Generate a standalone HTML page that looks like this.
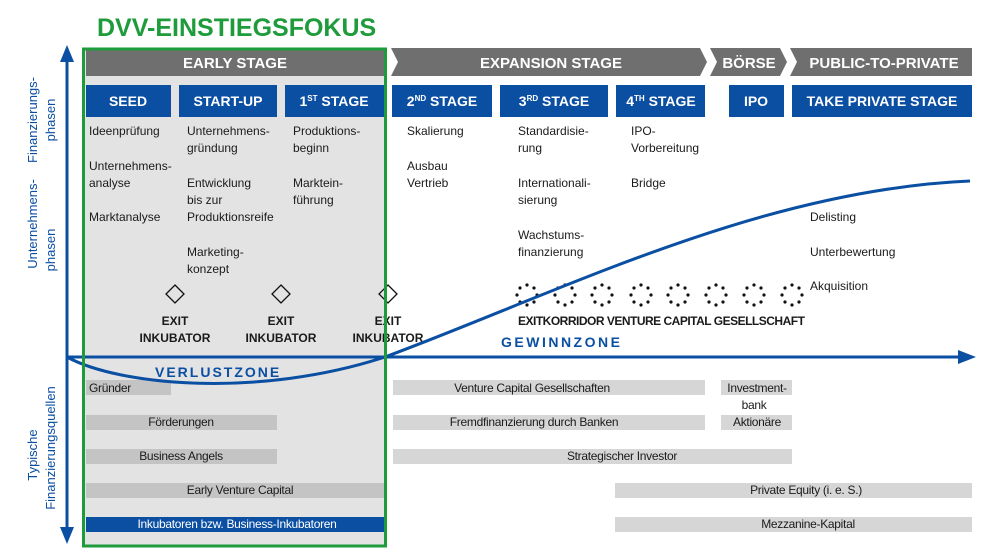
<!DOCTYPE html>
<html><head><meta charset="utf-8"><style>
html,body{margin:0;padding:0;background:#fff;}
svg{display:block;font-family:"Liberation Sans",sans-serif;}
.t{font-size:12px;fill:#1a1a1a;}
.b{font-size:12px;fill:#1a1a1a;font-weight:bold;}
.h{font-size:15px;fill:#fff;font-weight:bold;}
.s{font-size:14px;fill:#fff;font-weight:bold;}
.ax{font-size:13px;fill:#0a4ea3;}
</style></head><body>
<svg width="992" height="559" viewBox="0 0 992 559" xmlns="http://www.w3.org/2000/svg">
<rect x="84" y="49" width="302" height="497" fill="#e3e3e3"/>
<text x="97" y="36" font-size="25" font-weight="bold" fill="#1e9b3b">DVV-EINSTIEGSFOKUS</text>
<rect x="86" y="50" width="299" height="26" fill="#6f6f6f"/>
<polygon points="391,48 700,48 707,62 700,76 391,76 398,62" fill="#6f6f6f"/>
<polygon points="710,48 780,48 787,62 780,76 710,76 717,62" fill="#6f6f6f"/>
<polygon points="790,48 972,48 972,76 790,76 797,62" fill="#6f6f6f"/>
<text class="h" x="235" y="68" text-anchor="middle">EARLY STAGE</text>
<text class="h" x="551" y="68" text-anchor="middle">EXPANSION STAGE</text>
<text class="h" x="749" y="68" text-anchor="middle">BÖRSE</text>
<text class="h" x="884" y="68" text-anchor="middle">PUBLIC-TO-PRIVATE</text>
<g fill="#0b4fa3">
<rect x="86" y="85" width="85" height="32"/>
<rect x="179" y="85" width="98" height="32"/>
<rect x="285" y="85" width="99" height="32"/>
<rect x="392" y="85" width="100" height="32"/>
<rect x="500" y="85" width="108" height="32"/>
<rect x="616" y="85" width="89" height="32"/>
<rect x="729" y="85" width="55" height="32"/>
<rect x="792" y="85" width="180" height="32"/>
</g>
<text class="s" x="128" y="106" text-anchor="middle">SEED</text>
<text class="s" x="228" y="106" text-anchor="middle">START-UP</text>
<text class="s" x="334" y="106" text-anchor="middle">1<tspan font-size="8" dy="-5">ST</tspan><tspan dy="5"> STAGE</tspan></text>
<text class="s" x="442" y="106" text-anchor="middle">2<tspan font-size="8" dy="-5">ND</tspan><tspan dy="5"> STAGE</tspan></text>
<text class="s" x="554" y="106" text-anchor="middle">3<tspan font-size="8" dy="-5">RD</tspan><tspan dy="5"> STAGE</tspan></text>
<text class="s" x="661" y="106" text-anchor="middle">4<tspan font-size="8" dy="-5">TH</tspan><tspan dy="5"> STAGE</tspan></text>
<text class="s" x="756" y="106" text-anchor="middle">IPO</text>
<text class="s" x="882" y="106" text-anchor="middle">TAKE PRIVATE STAGE</text>
<g class="t">
<text x="89" y="135">Ideenprüfung</text>
<text x="89" y="170">Unternehmens-</text><text x="89" y="187">analyse</text>
<text x="89" y="221">Marktanalyse</text>
<text x="187" y="135">Unternehmens-</text><text x="187" y="152">gründung</text>
<text x="187" y="187">Entwicklung</text><text x="187" y="204">bis zur</text><text x="187" y="221">Produktionsreife</text>
<text x="187" y="256">Marketing-</text><text x="187" y="273">konzept</text>
<text x="293" y="135">Produktions-</text><text x="293" y="152">beginn</text>
<text x="293" y="187">Marktein-</text><text x="293" y="204">führung</text>
<text x="407" y="135">Skalierung</text>
<text x="407" y="170">Ausbau</text><text x="407" y="187">Vertrieb</text>
<text x="518" y="135">Standardisie-</text><text x="518" y="152">rung</text>
<text x="518" y="187">Internationali-</text><text x="518" y="204">sierung</text>
<text x="518" y="239">Wachstums-</text><text x="518" y="256">finanzierung</text>
<text x="631" y="135">IPO-</text><text x="631" y="152">Vorbereitung</text>
<text x="631" y="187">Bridge</text>
<text x="810" y="221">Delisting</text>
<text x="810" y="256">Unterbewertung</text>
<text x="810" y="290">Akquisition</text>
</g>
<g fill="none" stroke="#111" stroke-width="1.3">
<polygon points="175,285 184,294 175,303 166,294"/>
<polygon points="281,285 290,294 281,303 272,294"/>
<polygon points="388,285 397,294 388,303 379,294"/>
</g>
<g class="b" text-anchor="middle">
<text x="175" y="325">EXIT</text><text x="175" y="342">INKUBATOR</text>
<text x="281" y="325">EXIT</text><text x="281" y="342">INKUBATOR</text>
<text x="388" y="325">EXIT</text><text x="388" y="342">INKUBATOR</text>
<text x="518" y="325" text-anchor="start" letter-spacing="-0.5">EXITKORRIDOR VENTURE CAPITAL GESELLSCHAFT</text>
</g>
<g fill="#111">
<g transform="translate(527,295)"><circle cx="10" cy="0" r="1.6"/><circle cx="7" cy="7" r="1.6"/><circle cx="0" cy="10" r="1.6"/><circle cx="-7" cy="7" r="1.6"/><circle cx="-10" cy="0" r="1.6"/><circle cx="-7" cy="-7" r="1.6"/><circle cx="0" cy="-10" r="1.6"/><circle cx="7" cy="-7" r="1.6"/></g>
<g transform="translate(565,295)"><circle cx="10" cy="0" r="1.6"/><circle cx="7" cy="7" r="1.6"/><circle cx="0" cy="10" r="1.6"/><circle cx="-7" cy="7" r="1.6"/><circle cx="-10" cy="0" r="1.6"/><circle cx="-7" cy="-7" r="1.6"/><circle cx="0" cy="-10" r="1.6"/><circle cx="7" cy="-7" r="1.6"/></g>
<g transform="translate(602,295)"><circle cx="10" cy="0" r="1.6"/><circle cx="7" cy="7" r="1.6"/><circle cx="0" cy="10" r="1.6"/><circle cx="-7" cy="7" r="1.6"/><circle cx="-10" cy="0" r="1.6"/><circle cx="-7" cy="-7" r="1.6"/><circle cx="0" cy="-10" r="1.6"/><circle cx="7" cy="-7" r="1.6"/></g>
<g transform="translate(641,295)"><circle cx="10" cy="0" r="1.6"/><circle cx="7" cy="7" r="1.6"/><circle cx="0" cy="10" r="1.6"/><circle cx="-7" cy="7" r="1.6"/><circle cx="-10" cy="0" r="1.6"/><circle cx="-7" cy="-7" r="1.6"/><circle cx="0" cy="-10" r="1.6"/><circle cx="7" cy="-7" r="1.6"/></g>
<g transform="translate(678,295)"><circle cx="10" cy="0" r="1.6"/><circle cx="7" cy="7" r="1.6"/><circle cx="0" cy="10" r="1.6"/><circle cx="-7" cy="7" r="1.6"/><circle cx="-10" cy="0" r="1.6"/><circle cx="-7" cy="-7" r="1.6"/><circle cx="0" cy="-10" r="1.6"/><circle cx="7" cy="-7" r="1.6"/></g>
<g transform="translate(716,295)"><circle cx="10" cy="0" r="1.6"/><circle cx="7" cy="7" r="1.6"/><circle cx="0" cy="10" r="1.6"/><circle cx="-7" cy="7" r="1.6"/><circle cx="-10" cy="0" r="1.6"/><circle cx="-7" cy="-7" r="1.6"/><circle cx="0" cy="-10" r="1.6"/><circle cx="7" cy="-7" r="1.6"/></g>
<g transform="translate(754,295)"><circle cx="10" cy="0" r="1.6"/><circle cx="7" cy="7" r="1.6"/><circle cx="0" cy="10" r="1.6"/><circle cx="-7" cy="7" r="1.6"/><circle cx="-10" cy="0" r="1.6"/><circle cx="-7" cy="-7" r="1.6"/><circle cx="0" cy="-10" r="1.6"/><circle cx="7" cy="-7" r="1.6"/></g>
<g transform="translate(792,295)"><circle cx="10" cy="0" r="1.6"/><circle cx="7" cy="7" r="1.6"/><circle cx="0" cy="10" r="1.6"/><circle cx="-7" cy="7" r="1.6"/><circle cx="-10" cy="0" r="1.6"/><circle cx="-7" cy="-7" r="1.6"/><circle cx="0" cy="-10" r="1.6"/><circle cx="7" cy="-7" r="1.6"/></g>
</g>
<g fill="#c4c4c4">
<rect x="86" y="380" width="85" height="15"/>
<rect x="86" y="415" width="191" height="15"/>
<rect x="86" y="449" width="191" height="15"/>
<rect x="86" y="483" width="298" height="15"/>
<rect x="393" y="380" width="312" height="15" fill="#d6d6d6"/>
<rect x="393" y="415" width="312" height="15" fill="#d6d6d6"/>
<rect x="393" y="449" width="399" height="15" fill="#d6d6d6"/>
<rect x="721" y="380" width="71" height="15" fill="#d6d6d6"/>
<rect x="721" y="415" width="71" height="15" fill="#d6d6d6"/>
<rect x="615" y="483" width="357" height="15" fill="#d6d6d6"/>
<rect x="615" y="517" width="357" height="15" fill="#d6d6d6"/>
</g>
<rect x="86" y="517" width="298" height="15" fill="#0b4fa3"/>
<g class="t" text-anchor="middle" letter-spacing="-0.3">
<text x="89" y="392" text-anchor="start">Gründer</text>
<text x="181" y="426">Förderungen</text>
<text x="181" y="460">Business Angels</text>
<text x="240" y="494">Early Venture Capital</text>
<text x="237" y="528" fill="#fff">Inkubatoren bzw. Business-Inkubatoren</text>
<text x="532" y="392">Venture Capital Gesellschaften</text>
<text x="534" y="426">Fremdfinanzierung durch Banken</text>
<text x="622" y="460">Strategischer Investor</text>
<text x="757" y="392">Investment-</text><text x="754" y="409">bank</text>
<text x="757" y="426">Aktionäre</text>
<text x="806" y="494">Private Equity (i. e. S.)</text>
<text x="808" y="528">Mezzanine-Kapital</text>
</g>
<g stroke="#0b4fa3" stroke-width="3" fill="none">
<line x1="67" y1="58" x2="67" y2="532"/>
<line x1="67" y1="357" x2="960" y2="357"/>
<path d="M67,357 C120,386 260,398 385,357 C560,292 760,190 970,181"/>
</g>
<g fill="#0b4fa3">
<polygon points="67,45 60,62 74,62"/>
<polygon points="67,544 60,527 74,527"/>
<polygon points="976,357 958,350 958,364"/>
</g>
<text x="155" y="377" font-size="14" font-weight="bold" fill="#0b4fa3" letter-spacing="2">VERLUSTZONE</text>
<text x="501" y="347" font-size="14" font-weight="bold" fill="#0b4fa3" letter-spacing="2.5">GEWINNZONE</text>
<rect x="83.5" y="49" width="302" height="497" fill="none" stroke="#1e9b3b" stroke-width="3"/>
<g class="ax" text-anchor="middle">
<text transform="translate(37,120) rotate(-90)">Finanzierungs-</text>
<text transform="translate(55,120) rotate(-90)">phasen</text>
<text transform="translate(37,224) rotate(-90)">Unternehmens-</text>
<text transform="translate(55,250) rotate(-90)">phasen</text>
<text transform="translate(37,455) rotate(-90)">Typische</text>
<text transform="translate(55,448) rotate(-90)">Finanzierungsquellen</text>
</g>
</svg>
</body></html>
